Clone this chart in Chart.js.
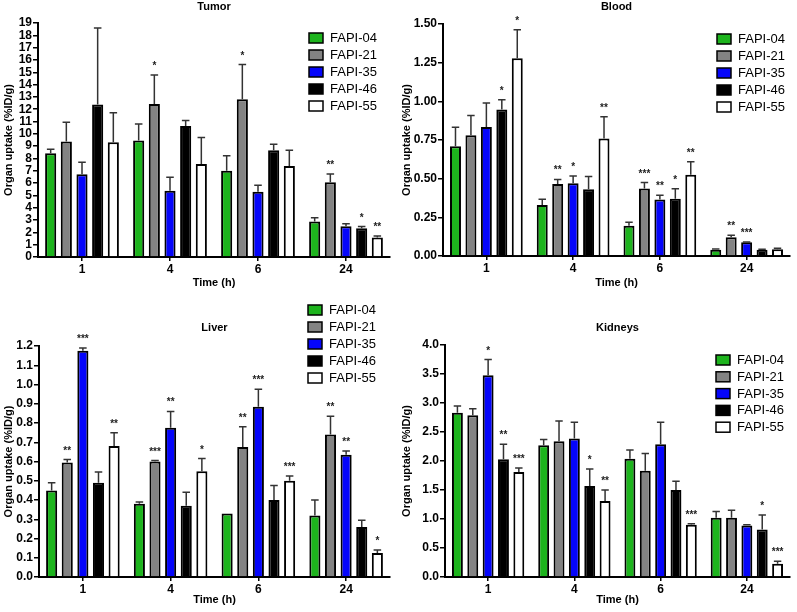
<!DOCTYPE html>
<html>
<head>
<meta charset="utf-8">
<title>Organ uptake</title>
<script src="https://cdn.jsdelivr.net/npm/chart.js@4.4.0/dist/chart.umd.min.js"></script>
<style>
    body { margin: 0; background: #fff; }
    #wrap { position: relative; width: 797px; height: 612px; }
    canvas { position: absolute; }
</style>
</head>
<body>
<div id="wrap">
    <canvas id="tumor" width="398" height="300" style="left:0px;top:0px"></canvas>
    <canvas id="blood" width="399" height="300" style="left:398px;top:0px"></canvas>
    <canvas id="liver" width="398" height="312" style="left:0px;top:300px"></canvas>
    <canvas id="kidneys" width="399" height="312" style="left:398px;top:300px"></canvas>
</div>

<script>
    // categories and series
    const times = ['1', '4', '6', '24'];
    const tracers = ['FAPI-04', 'FAPI-21', 'FAPI-35', 'FAPI-46', 'FAPI-55'];
    const colors = ['#1DB41D', '#838383', '#0505FA', '#000000', '#FFFFFF'];

    // rows = tracer, columns = time point
    const tumorMean = [
        [8.42, 9.46, 7.01, 2.88],
        [9.38, 12.42, 12.80, 6.06],
        [6.71, 5.38, 5.30, 2.50],
        [12.39, 10.63, 8.67, 2.34],
        [9.32, 7.55, 7.39, 1.58]
    ];
    const tumorSD = [
        [0.33, 1.33, 1.22, 0.30],
        [1.57, 2.36, 2.83, 0.68],
        [0.98, 1.09, 0.52, 0.19],
        [6.21, 0.46, 0.49, 0.13],
        [2.39, 2.15, 1.28, 0.13]
    ];
    const tumorSig = [
        ['', '', '', ''],
        ['', '*', '*', '**'],
        ['', '', '', ''],
        ['', '', '', '*'],
        ['', '', '', '**']
    ];

    const bloodMean = [
        [0.709, 0.329, 0.195, 0.041],
        [0.780, 0.465, 0.437, 0.121],
        [0.834, 0.471, 0.365, 0.089],
        [0.947, 0.432, 0.370, 0.041],
        [1.279, 0.759, 0.525, 0.043]
    ];
    const bloodSD = [
        [0.123, 0.038, 0.023, 0.004],
        [0.128, 0.030, 0.038, 0.013],
        [0.156, 0.046, 0.028, 0.002],
        [0.064, 0.082, 0.064, 0.002],
        [0.184, 0.142, 0.084, 0.007]
    ];
    const bloodSig = [
        ['', '', '', ''],
        ['', '**', '***', '**'],
        ['', '*', '**', '***'],
        ['*', '', '*', ''],
        ['*', '**', '**', '']
    ];

    const liverMean = [
        [0.45, 0.38, 0.33, 0.32],
        [0.595, 0.60, 0.675, 0.74],
        [1.175, 0.775, 0.885, 0.635],
        [0.49, 0.37, 0.40, 0.26],
        [0.68, 0.55, 0.50, 0.125]
    ];
    const liverSD = [
        [0.04, 0.01, 0, 0.08],
        [0.015, 0.005, 0.105, 0.095],
        [0.015, 0.085, 0.09, 0.02],
        [0.055, 0.07, 0.075, 0.035],
        [0.07, 0.065, 0.025, 0.015]
    ];
    const liverSig = [
        ['', '', '', ''],
        ['**', '***', '**', '**'],
        ['***', '**', '***', '**'],
        ['', '', '', ''],
        ['**', '*', '***', '*']
    ];

    const kidneyMean = [
        [2.83, 2.27, 2.04, 1.02],
        [2.79, 2.34, 1.83, 1.02],
        [3.48, 2.39, 2.29, 0.89],
        [2.03, 1.57, 1.50, 0.82],
        [1.81, 1.31, 0.90, 0.23]
    ];
    const kidneySD = [
        [0.12, 0.10, 0.15, 0.11],
        [0.11, 0.35, 0.30, 0.13],
        [0.27, 0.28, 0.38, 0.01],
        [0.26, 0.29, 0.15, 0.25],
        [0.07, 0.19, 0.02, 0.04]
    ];
    const kidneySig = [
        ['', '', '', ''],
        ['', '', '', ''],
        ['*', '', '', ''],
        ['**', '*', '', '*'],
        ['***', '**', '***', '***']
    ];

    // y axis ranges: [max, step, decimals]
    const tumorAxis = [19, 1, 0];
    const bloodAxis = [1.5, 0.25, 2];
    const liverAxis = [1.2, 0.1, 1];
    const kidneyAxis = [4, 0.5, 1];

    const FONT = 'Arial, "Liberation Sans", sans-serif';

    // per panel layout (pixels inside each canvas)
    const panels = [
        { id: 'tumor', title: 'Tumor', mean: tumorMean, sd: tumorSD, sig: tumorSig, axis: tumorAxis,
          top: 23, right: 8, yWidth: 38, xHeight: 43, titleY: 7, xTitlePad: 10,
          legX: 309, legY: 38, legDy: 17 },
        { id: 'blood', title: 'Blood', mean: bloodMean, sd: bloodSD, sig: bloodSig, axis: bloodAxis,
          top: 24, right: 7, yWidth: 45, xHeight: 44, titleY: 7, xTitlePad: 10,
          legX: 319, legY: 39, legDy: 17 },
        { id: 'liver', title: 'Liver', mean: liverMean, sd: liverSD, sig: liverSig, axis: liverAxis,
          top: 46, right: 8, yWidth: 39, xHeight: 35, titleY: 28, xTitlePad: 5,
          legX: 308, legY: 10, legDy: 17 },
        { id: 'kidneys', title: 'Kidneys', mean: kidneyMean, sd: kidneySD, sig: kidneySig, axis: kidneyAxis,
          top: 45, right: 7, yWidth: 47, xHeight: 35, titleY: 28, xTitlePad: 5,
          legX: 318, legY: 60, legDy: 16.8 }
    ];

    // error bars, significance stars, title and legend
    const extras = {
        id: 'extras',
        afterDatasetsDraw(chart) {
            const ctx = chart.ctx;
            const yScale = chart.scales.y;
            ctx.save();
            chart.data.datasets.forEach(function (ds, i) {
                const meta = chart.getDatasetMeta(i);
                meta.data.forEach(function (bar, j) {
                    const sd = ds.sd[j];
                    const capY = yScale.getPixelForValue(ds.data[j] + sd);
                    if (sd > 0) {
                        const half = bar.width * 0.34;
                        ctx.strokeStyle = '#333';
                        ctx.lineWidth = 1.5;
                        ctx.beginPath();
                        ctx.moveTo(bar.x, bar.y);
                        ctx.lineTo(bar.x, capY);
                        ctx.moveTo(bar.x - half, capY);
                        ctx.lineTo(bar.x + half, capY);
                        ctx.stroke();
                    }
                    if (ds.sig[j]) {
                        ctx.fillStyle = '#222';
                        ctx.font = 'bold 10px ' + FONT;
                        ctx.textAlign = 'center';
                        ctx.textBaseline = 'alphabetic';
                        ctx.fillText(ds.sig[j], bar.x, capY - 6);
                    }
                });
            });
            ctx.restore();
        },
        afterDraw(chart, args, opts) {
            const ctx = chart.ctx;
            const area = chart.chartArea;
            ctx.save();
            ctx.fillStyle = '#000';
            ctx.font = 'bold 11px ' + FONT;
            ctx.textAlign = 'center';
            ctx.textBaseline = 'middle';
            ctx.fillText(opts.title, (area.left + area.right) / 2, opts.titleY);

            ctx.font = '13px ' + FONT;
            ctx.textAlign = 'left';
            chart.data.datasets.forEach(function (ds, i) {
                const cy = opts.legY + i * opts.legDy;
                ctx.fillStyle = ds.backgroundColor;
                ctx.fillRect(opts.legX, cy - 5, 14, 10);
                ctx.strokeStyle = '#000';
                ctx.lineWidth = 1.5;
                ctx.strokeRect(opts.legX, cy - 5, 14, 10);
                ctx.fillStyle = '#000';
                ctx.fillText(ds.label, opts.legX + 21, cy + 0.5);
            });
            ctx.restore();
        }
    };

    panels.forEach(function (p) {
        const datasets = tracers.map(function (name, i) {
            return {
                label: name,
                data: p.mean[i],
                sd: p.sd[i],
                sig: p.sig[i],
                backgroundColor: colors[i],
                borderColor: '#000',
                borderWidth: 2,
                categoryPercentage: 0.89,
                barPercentage: 0.71
            };
        });

        new Chart(document.getElementById(p.id), {
            type: 'bar',
            data: { labels: times, datasets: datasets },
            plugins: [extras],
            options: {
                responsive: false,
                animation: false,
                devicePixelRatio: 1,
                layout: { padding: { top: p.top, right: p.right, left: 0, bottom: 0 } },
                plugins: {
                    legend: { display: false },
                    tooltip: { enabled: false },
                    extras: { title: p.title, titleY: p.titleY, legX: p.legX, legY: p.legY, legDy: p.legDy }
                },
                scales: {
                    x: {
                        offset: true,
                        afterFit: function (s) { s.height = p.xHeight; },
                        grid: { offset: false, drawOnChartArea: false, drawTicks: true, tickLength: 4, color: '#000', lineWidth: 1.5 },
                        border: { display: true, color: '#000', width: 2 },
                        ticks: { color: '#000', padding: 1, font: { family: FONT, size: 12, weight: 'bold' } },
                        title: { display: true, text: 'Time (h)', color: '#000',
                                 padding: { top: 0, bottom: p.xTitlePad },
                                 font: { family: FONT, size: 11, weight: 'bold' } }
                    },
                    y: {
                        min: 0,
                        max: p.axis[0],
                        afterFit: function (s) { s.width = p.yWidth; },
                        grid: { drawOnChartArea: false, drawTicks: true, tickLength: 5, color: '#000', lineWidth: 1.5 },
                        border: { display: true, color: '#000', width: 2 },
                        ticks: {
                            stepSize: p.axis[1],
                            autoSkip: false,
                            maxTicksLimit: 30,
                            color: '#000',
                            padding: 1,
                            font: { family: FONT, size: 12, weight: 'bold' },
                            callback: function (v) { return Number(v).toFixed(p.axis[2]); }
                        },
                        title: { display: true, text: 'Organ uptake (%ID/g)', color: '#000',
                                 padding: { top: 2, bottom: 0 },
                                 font: { family: FONT, size: 11, weight: 'bold' } }
                    }
                }
            }
        });
    });
</script>
</body>
</html>
